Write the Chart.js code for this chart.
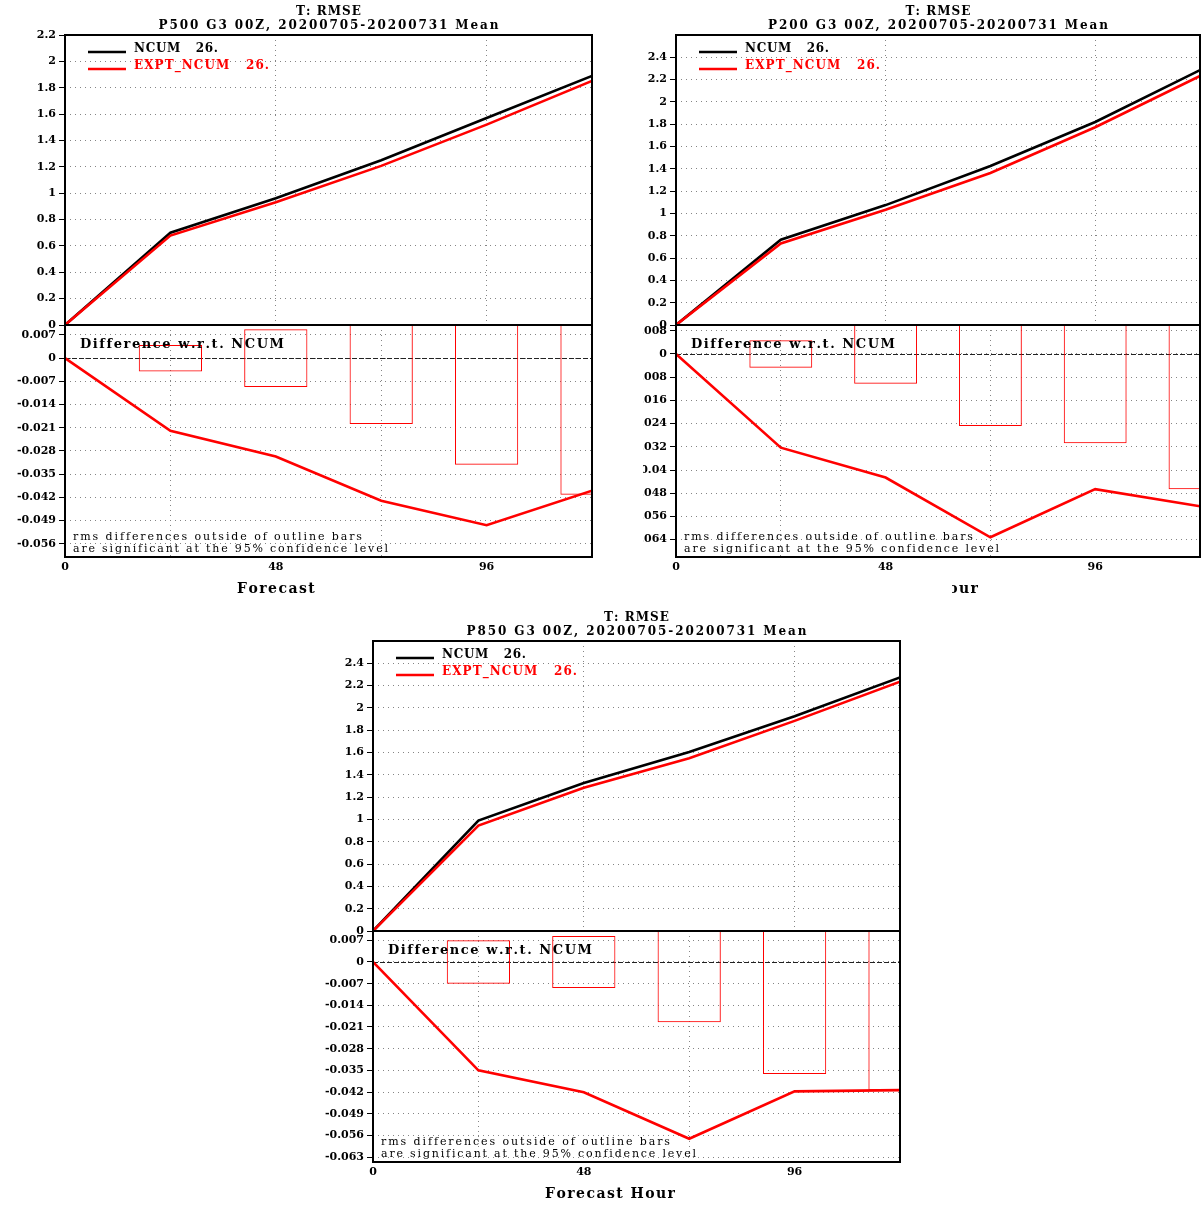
<!DOCTYPE html>
<html lang="en">
<head>
  <meta charset="UTF-8" />
  <title>T: RMSE</title>
  <script src="https://cdn.jsdelivr.net/npm/chart.js"></script>
<style>
  html, body {
    margin: 0;
    padding: 0;
    background: #ffffff;
    width: 1201px;
    height: 1207px;
    overflow: hidden;
    position: relative;
  }
  .panel { position: absolute; overflow: hidden; }
  .panel canvas { position: absolute; }
</style>
</head>
<body>
<script>
  // forecast hours of the points, of the significance boxes and of the labelled ticks
  const hours = [0, 24, 48, 72, 96, 120];
  const boxHours = [24, 48, 72, 96, 120];
  const hourTicks = [0, 48, 96];

  const seriesLabels = ['NCUM   26.', 'EXPT_NCUM   26.'];
  const levels = ['P500', 'P200', 'P850'];
  const titleTop = 'T: RMSE';
  const titleTail = ' G3 00Z, 20200705-20200731 Mean';
  const diffTitle = 'Difference w.r.t. NCUM';
  const noteLines = ['rms differences outside of outline bars', 'are significant at the 95% confidence level'];
  const xTitle = 'Forecast Hour';

  // P500
  const ncum500 = [0, 0.700, 0.962, 1.250, 1.570, 1.890];
  const expt500 = [0, 0.678, 0.932, 1.207, 1.520, 1.852];
  const diff500 = [0, -0.0219, -0.0297, -0.0430, -0.0504, -0.0400];
  const sig500 = [0.0040, 0.0087, 0.0199, 0.0322, 0.0412];
  const rmseTicks500 = [0, 0.2, 0.4, 0.6, 0.8, 1, 1.2, 1.4, 1.6, 1.8, 2, 2.2];
  const diffTicks500 = [0.007, 0, -0.007, -0.014, -0.021, -0.028, -0.035, -0.042, -0.049, -0.056];

  // P200
  const ncum200 = [0, 0.765, 1.075, 1.425, 1.820, 2.285];
  const expt200 = [0, 0.731, 1.033, 1.363, 1.773, 2.233];
  const diff200 = [0, -0.0323, -0.0426, -0.0632, -0.0466, -0.0525];
  const sig200 = [0.0047, 0.0103, 0.0248, 0.0308, 0.0466];
  const rmseTicks200 = [0, 0.2, 0.4, 0.6, 0.8, 1, 1.2, 1.4, 1.6, 1.8, 2, 2.2, 2.4];
  const diffTicks200 = [0.008, 0, -0.008, -0.016, -0.024, -0.032, -0.04, -0.048, -0.056, -0.064];

  // P850
  const ncum850 = [0, 0.990, 1.326, 1.605, 1.926, 2.274];
  const expt850 = [0, 0.945, 1.284, 1.548, 1.884, 2.235];
  const diff850 = [0, -0.0350, -0.0421, -0.0571, -0.0418, -0.0414];
  const sig850 = [0.0070, 0.0084, 0.0195, 0.0362, 0.0414];
  const rmseTicks850 = [0, 0.2, 0.4, 0.6, 0.8, 1, 1.2, 1.4, 1.6, 1.8, 2, 2.2, 2.4];
  const diffTicks850 = [0.007, 0, -0.007, -0.014, -0.021, -0.028, -0.035, -0.042, -0.049, -0.056, -0.063];

  const FONT = '"DejaVu Serif"';
  const TICK_FONT = { family: 'DejaVu Serif', weight: 'bold', size: 11 };
  const GRID = '#858585';
  const AXIS_W = 65, PAD_R = 12, TITLE_H = 35, GAP = 8, XAXIS_H = 50;

  // page placement of each panel (plot left/right, top, split, bottom)
  const panels = [
    { level: levels[0], ncum: ncum500, expt: expt500, diff: diff500, sig: sig500,
      rmseTicks: rmseTicks500, diffTicks: diffTicks500, rmseMax: 2.2, diffMin: -0.060, diffMax: 0.010,
      wrap: [0, 0, 643, 600], L: 65, R: 592, T: 35, M: 325, B: 557, xTitleShow: [0, 320] },
    { level: levels[1], ncum: ncum200, expt: expt200, diff: diff200, sig: sig200,
      rmseTicks: rmseTicks200, diffTicks: diffTicks200, rmseMax: 2.6, diffMin: -0.070, diffMax: 0.010,
      wrap: [643, 0, 558, 600], L: 676, R: 1200, T: 35, M: 325, B: 557, xTitleShow: [952, 1400] },
    { level: levels[2], ncum: ncum850, expt: expt850, diff: diff850, sig: sig850,
      rmseTicks: rmseTicks850, diffTicks: diffTicks850, rmseMax: 2.6, diffMin: -0.0646, diffMax: 0.010,
      wrap: [0, 600, 1201, 607], L: 373, R: 900, T: 641, M: 931, B: 1162, xTitleShow: null }
  ];

  function pts(values) {
    return hours.map((h, i) => ({ x: h, y: values[i] }));
  }

  // draw text stretched to a given width (the original font is very wide)
  function spaced(ctx, text, x, y, width, font, color, align) {
    ctx.save();
    ctx.font = font;
    ctx.fillStyle = color;
    ctx.textBaseline = 'middle';
    ctx.textAlign = 'left';
    const chars = [...text];
    const widths = chars.map(c => ctx.measureText(c).width);
    const natural = widths.reduce((a, b) => a + b, 0);
    const gap = chars.length > 1 ? (width - natural) / (chars.length - 1) : 0;
    let cx = align === 'center' ? x - width / 2 : x;
    chars.forEach((c, i) => {
      ctx.fillText(c, cx, y);
      cx += widths[i] + gap;
    });
    ctx.restore();
  }

  function frame(ctx, a) {
    ctx.save();
    ctx.strokeStyle = '#000';
    ctx.lineWidth = 2;
    ctx.strokeRect(a.left, a.top, a.right - a.left, a.bottom - a.top);
    ctx.restore();
  }

  function noPadding(s) {
    s.paddingTop = 0; s.paddingBottom = 0; s.paddingLeft = 0; s.paddingRight = 0;
  }

  function xScale(showLabels, height) {
    return {
      type: 'linear', min: 0, max: 120, offset: false,
      afterBuildTicks: s => { s.ticks = hourTicks.map(v => ({ value: v })); },
      afterFit: s => { s.height = height; noPadding(s); },
      grid: { color: GRID, lineWidth: 1, drawTicks: false },
      border: { display: false, dash: [1, 4] },
      ticks: { display: showLabels, autoSkip: false, maxRotation: 0, padding: 4, color: '#000',
               font: TICK_FONT, callback: v => String(v) }
    };
  }

  function yScale(min, max, tickValues) {
    return {
      type: 'linear', min: min, max: max,
      afterBuildTicks: s => { s.ticks = tickValues.map(v => ({ value: v })); },
      afterFit: s => { s.width = AXIS_W; noPadding(s); },
      grid: { color: GRID, lineWidth: 1, drawTicks: true, tickLength: 6, tickColor: '#000',
              tickWidth: 1, tickBorderDash: [] },
      border: { display: false, dash: [1, 4] },
      ticks: { autoSkip: false, padding: 3, color: '#000', font: TICK_FONT, callback: v => String(v) }
    };
  }

  function topDecor(p) {
    return {
      id: 'topDecor',
      afterDraw(chart) {
        const { ctx, chartArea: a } = chart;
        frame(ctx, a);
        const cx = (a.left + a.right) / 2;
        spaced(ctx, titleTop, cx, a.top - 23.5, 65, `bold 12px ${FONT}`, '#000', 'center');
        spaced(ctx, p.level + titleTail, cx, a.top - 9.5, 340, `bold 12px ${FONT}`, '#000', 'center');
        const legendWidths = [84, 135];
        chart.data.datasets.forEach((ds, i) => {
          const y = a.top + 17 + i * 17;
          ctx.save();
          ctx.strokeStyle = ds.borderColor;
          ctx.lineWidth = 2.5;
          ctx.beginPath();
          ctx.moveTo(a.left + 23, y);
          ctx.lineTo(a.left + 61, y);
          ctx.stroke();
          ctx.restore();
          spaced(ctx, ds.label, a.left + 69, y - 3, legendWidths[i], `bold 12px ${FONT}`, ds.borderColor, 'left');
        });
      }
    };
  }

  function diffDecor(p, originX) {
    return {
      id: 'diffDecor',
      beforeDatasetsDraw(chart) {
        const { ctx, chartArea: a, scales } = chart;
        const y0 = Math.round(scales.y.getPixelForValue(0)) + 0.5;
        ctx.save();
        ctx.strokeStyle = '#222';
        ctx.lineWidth = 1;
        ctx.setLineDash([5, 2]);
        ctx.beginPath();
        ctx.moveTo(a.left, y0);
        ctx.lineTo(a.right, y0);
        ctx.stroke();
        ctx.restore();
      },
      afterDraw(chart) {
        const { ctx, chartArea: a } = chart;
        frame(ctx, a);
        spaced(ctx, diffTitle, a.left + 15, a.top + 20, 204, `bold 13px ${FONT}`, '#000', 'left');
        spaced(ctx, noteLines[0], a.left + 8, a.bottom - 20, 289, `11px ${FONT}`, '#000', 'left');
        spaced(ctx, noteLines[1], a.left + 8, a.bottom - 8, 315, `11px ${FONT}`, '#000', 'left');
        ctx.save();
        if (p.xTitleShow) {
          ctx.beginPath();
          ctx.rect(p.xTitleShow[0] - originX, a.bottom + 10, p.xTitleShow[1] - p.xTitleShow[0], 40);
          ctx.clip();
        }
        spaced(ctx, xTitle, a.left + 172, a.bottom + 32, 130, `bold 14px ${FONT}`, '#000', 'left');
        ctx.restore();
      }
    };
  }

  function topConfig(p) {
    return {
      type: 'line',
      data: {
        datasets: [
          { label: seriesLabels[0], data: pts(p.ncum), borderColor: '#000000', order: 2 },
          { label: seriesLabels[1], data: pts(p.expt), borderColor: '#ff0000', order: 1 }
        ]
      },
      options: {
        responsive: false, animation: false, events: [],
        layout: { padding: { left: 0, top: TITLE_H, right: PAD_R, bottom: GAP } },
        elements: { line: { borderWidth: 2.6, tension: 0 }, point: { radius: 0 } },
        plugins: { legend: { display: false }, tooltip: { enabled: false } },
        scales: {
          x: xScale(false, 0),
          y: yScale(0, p.rmseMax, p.rmseTicks)
        }
      },
      plugins: [topDecor(p)]
    };
  }

  function diffConfig(p, originX) {
    return {
      type: 'line',
      data: {
        datasets: [
          { type: 'line', label: 'EXPT_NCUM - NCUM', data: pts(p.diff), borderColor: '#ff0000',
            borderWidth: 2.6, tension: 0, pointRadius: 0, order: 1 },
          { type: 'bar', label: '95% confidence',
            data: p.sig.map((s, i) => ({ x: boxHours[i], y: [-s, Math.min(s, p.diffMax)] })),
            backgroundColor: 'rgba(0,0,0,0)', borderColor: '#ff0000', borderWidth: 1,
            borderSkipped: false, barPercentage: 0.6, categoryPercentage: 1, grouped: false, order: 2 }
        ]
      },
      options: {
        responsive: false, animation: false, events: [],
        layout: { padding: { left: 0, top: GAP, right: PAD_R, bottom: 0 } },
        plugins: { legend: { display: false }, tooltip: { enabled: false } },
        scales: {
          x: xScale(true, XAXIS_H),
          y: yScale(p.diffMin, p.diffMax, p.diffTicks)
        }
      },
      plugins: [diffDecor(p, originX)]
    };
  }

  function addCanvas(parent, left, top, w, h) {
    const c = document.createElement('canvas');
    c.width = w;
    c.height = h;
    c.style.left = left + 'px';
    c.style.top = top + 'px';
    c.style.width = w + 'px';
    c.style.height = h + 'px';
    parent.appendChild(c);
    return c;
  }

  panels.forEach(p => {
    const wrap = document.createElement('div');
    wrap.className = 'panel';
    wrap.style.left = p.wrap[0] + 'px';
    wrap.style.top = p.wrap[1] + 'px';
    wrap.style.width = p.wrap[2] + 'px';
    wrap.style.height = p.wrap[3] + 'px';
    document.body.appendChild(wrap);

    const originX = p.L - AXIS_W;
    const w = p.R - p.L + AXIS_W + PAD_R;
    const topCanvas = addCanvas(wrap, originX - p.wrap[0], p.T - TITLE_H - p.wrap[1], w, p.M - p.T + TITLE_H + GAP);
    const diffCanvas = addCanvas(wrap, originX - p.wrap[0], p.M - GAP - p.wrap[1], w, p.B - p.M + GAP + XAXIS_H);
    new Chart(topCanvas.getContext('2d'), topConfig(p));
    new Chart(diffCanvas.getContext('2d'), diffConfig(p, originX));
  });
</script>
</body>
</html>
